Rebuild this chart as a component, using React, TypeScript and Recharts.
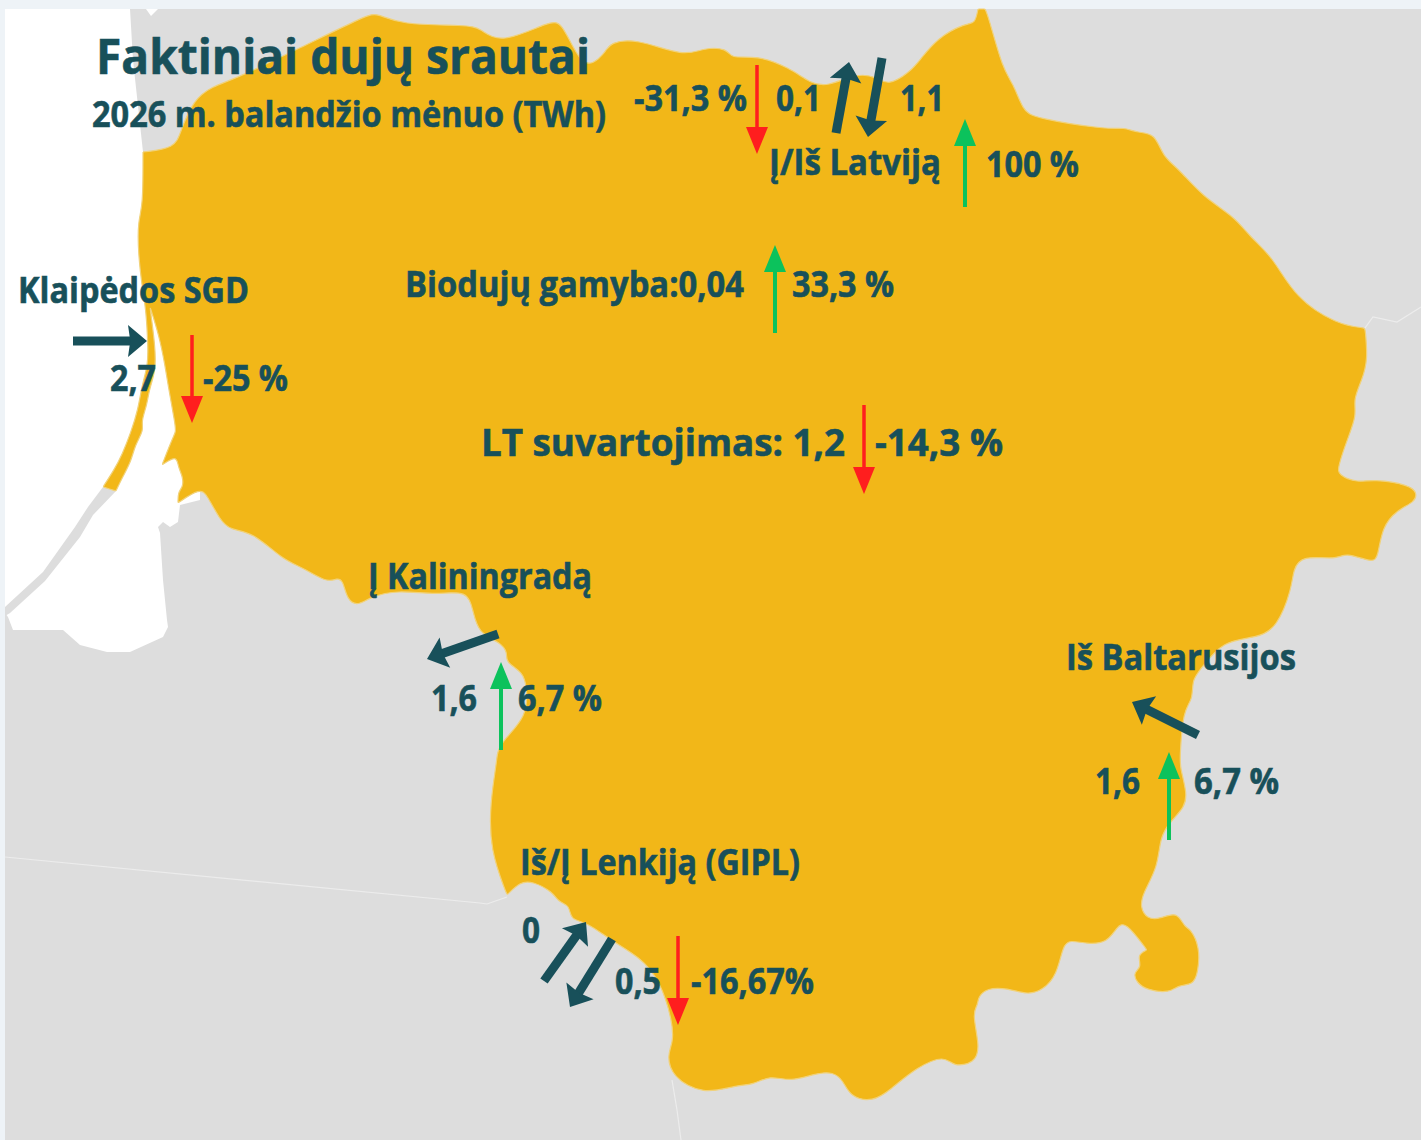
import { ScatterChart, Scatter, XAxis, YAxis } from "recharts"

const WIDTH = 1421
const HEIGHT = 1140
const PAGE = "#eef3f7"
const LAND = "#dddddd"
const GOLD = "#f2b718"
const INK = "#18505a"
const RED = "#ff1e1e"
const GREEN = "#0cc25c"

type Pt = [number, number]

const frame: Pt[] = [[5, 9], [1421, 9], [1421, 1140], [5, 1140]]

const sea: Pt[] = [
  [5, 9], [130, 9], [133, 60], [143, 152], [200, 152], [200, 500], [180, 505], [178, 522], [170, 527], [163, 522],
  [158, 527], [160, 533], [163, 580], [167, 620], [168, 627], [163, 637], [130, 652], [107, 652], [80, 645], [63, 630],
  [13, 630], [8, 617], [5, 613],
]

const seaNotch: Pt[] = [[146, 9], [158, 9], [151, 16]]

const grayCuronian: Pt[] = [
  [103, 487], [88, 507], [75, 527], [43, 572], [5, 607], [5, 616], [10, 613], [45, 581], [80, 537], [93, 515], [116, 491],
]

// repeated points keep the sharp corners when the outline is smoothed
const lithuania: Pt[] = [
  [143, 152], [143, 152], [143, 207], [138, 220], [138, 253], [143, 293], [146, 310], [148, 345], [148, 365], [142, 385], [138, 410],
  [131, 432], [122, 455], [114, 470], [103, 487], [103, 487], [116, 491], [116, 491], [122, 478], [131, 462], [135, 445], [144, 430], [141, 422],
  [147, 405], [149, 390], [156, 370], [155, 345], [150, 307], [150, 307], [159, 335], [165, 365], [168, 385], [175, 423], [176, 432],
  [173, 437], [162, 465], [162, 465], [177, 455], [178, 467], [183, 477], [183, 487], [178, 492], [178, 503], [178, 503], [200, 488], [207, 495],
  [220, 520], [230, 530], [253, 532], [283, 560], [302, 567], [327, 583], [337, 578], [343, 580], [347, 600], [358, 606],
  [370, 597], [397, 590], [437, 595], [467, 590], [473, 610], [478, 633], [500, 642], [508, 653], [505, 662], [523, 672],
  [527, 687], [527, 717], [503, 740], [497, 753], [497, 760], [490, 803], [490, 850], [507, 895], [507, 895], [520, 882], [532, 881],
  [553, 892], [558, 902], [570, 905], [570, 920], [587, 922], [610, 940], [640, 957], [660, 980], [673, 1023], [673, 1043],
  [667, 1055], [672, 1077], [703, 1095], [737, 1085], [753, 1085], [770, 1075], [790, 1082], [817, 1073], [833, 1072], [843, 1080],
  [850, 1097], [873, 1102], [890, 1090], [917, 1067], [945, 1055], [953, 1067], [975, 1063], [980, 1047], [972, 1013], [978, 1005],
  [978, 997], [987, 988], [1007, 988], [1028, 995], [1043, 990], [1057, 975], [1063, 945], [1070, 940], [1087, 944], [1107, 943],
  [1117, 927], [1125, 921], [1147, 950], [1147, 950], [1137, 955], [1142, 967], [1133, 973], [1137, 983], [1147, 990], [1170, 993], [1178, 985],
  [1193, 985], [1198, 973], [1200, 947], [1190, 928], [1185, 928], [1177, 911], [1160, 919], [1147, 919], [1140, 907], [1143, 893],
  [1158, 867], [1160, 837], [1170, 822], [1185, 807], [1187, 793], [1180, 767], [1180, 757], [1183, 710], [1193, 700], [1192, 680],
  [1200, 670], [1223, 640], [1257, 638], [1277, 628], [1292, 588], [1293, 570], [1302, 555], [1337, 560], [1345, 552], [1373, 563],
  [1378, 557], [1382, 527], [1397, 510], [1415, 502], [1417, 493], [1410, 485], [1373, 479], [1358, 483], [1338, 475], [1338, 467],
  [1347, 440], [1357, 415], [1353, 400], [1362, 380], [1368, 360], [1365, 328], [1365, 328], [1338, 325], [1295, 298], [1273, 257], [1250, 237],
  [1235, 217], [1203, 197], [1178, 168], [1163, 157], [1155, 133], [1138, 133], [1123, 127], [1110, 130], [1033, 118], [1023, 110],
  [1013, 83], [1003, 70], [988, 15], [985, 9], [985, 9], [978, 9], [978, 9], [975, 24], [966, 23], [937, 38], [920, 60], [910, 72],
  [888, 86], [877, 77], [857, 73], [827, 87], [810, 83], [790, 68], [757, 55], [730, 59], [728, 48], [702, 48],
  [685, 57], [635, 38], [610, 43], [607, 50], [593, 65], [580, 63], [562, 23], [552, 20], [500, 45], [480, 28],
  [467, 25], [400, 25], [377, 13], [367, 15], [300, 48], [233, 80], [213, 86], [193, 100], [180, 133], [175, 148], [143, 152], [143, 152],
]

const borderPoland: Pt[] = [[5, 857], [480, 903], [487, 904], [507, 897]]
const borderKaliningrad: Pt[] = [[672, 1080], [677, 1110], [681, 1140]]
const borderBelarus: Pt[] = [[1365, 328], [1373, 317], [1397, 322], [1421, 307]]

// flow arrows: tail, tip
const flowArrows: [Pt, Pt][] = [
  [[73, 341], [147, 341]],
  [[836, 133], [849, 62]],
  [[882, 58], [868, 137]],
  [[498, 634], [427, 659]],
  [[1198, 735], [1132, 702]],
  [[544, 981], [586, 922]],
  [[612, 939], [570, 1007]],
]
const redArrows: [Pt, Pt][] = [
  [[757, 65], [757, 154]],
  [[192, 335], [192, 423]],
  [[864, 405], [864, 494]],
  [[678, 936], [678, 1025]],
]
const greenArrows: [Pt, Pt][] = [
  [[965, 207], [965, 119]],
  [[775, 333], [775, 245]],
  [[501, 750], [501, 662]],
  [[1169, 840], [1169, 752]],
]

const labelTexts = [
  "Faktiniai dujų srautai", "2026 m. balandžio mėnuo (TWh)", "-31,3 %", "0,1", "1,1", "Į/Iš Latviją", "100 %",
  "Biodujų gamyba:0,04", "33,3 %", "Klaipėdos SGD", "2,7", "-25 %", "LT suvartojimas: 1,2", "-14,3 %",
  "Į Kaliningradą", "1,6", "6,7 %", "Iš Baltarusijos", "1,6", "6,7 %", "Iš/Į Lenkiją (GIPL)", "0", "0,5", "-16,67%",
]
const labelX = [96, 92, 634, 776, 900, 769, 986, 405, 792, 18, 110, 203, 481, 875, 368, 431, 518, 1066, 1095, 1194, 520, 522, 615, 691]
const labelY = [74, 127, 111, 111, 111, 175, 177, 297, 297, 303, 391, 391, 456, 456, 589, 711, 711, 670, 794, 794, 875, 943, 994, 994]
const labelWidths = [494, 514, 113, 45, 44, 172, 93, 339, 102, 231, 46, 85, 364, 128, 224, 46, 84, 230, 45, 85, 280, 18, 46, 123]
const labelSizes = [48, 35, 35, 35, 35, 35, 35, 35, 35, 35, 35, 35, 38, 38, 35, 35, 35, 35, 35, 35, 35, 35, 35, 35]

const toPoints = (pts: Pt[]) => pts.map(([x, y]) => ({ x, y }))
const labels = labelTexts.map((text, i) => ({ text, x: labelX[i], y: labelY[i], w: labelWidths[i], size: labelSizes[i] }))

const noDot = () => <g />

function Region({ pts, fill, stroke = "none", curve = "linear" }: { pts: Pt[]; fill: string; stroke?: string; curve?: string }) {
  return (
    <Scatter
      data={toPoints(pts)}
      line={{ fill, stroke, strokeWidth: stroke === "none" ? 0 : 1.2 }}
      lineJointType={curve as any}
      shape={noDot}
      isAnimationActive={false}
    />
  )
}

function arrowSeries(key: string, [tail, tip]: [Pt, Pt], color: string, shaft: number, headLen: number, headHalf: number, notch: number) {
  const dx = tip[0] - tail[0]
  const dy = tip[1] - tail[1]
  const len = Math.hypot(dx, dy)
  const angle = (Math.atan2(dy, dx) * 180) / Math.PI
  const head = (p: any) => {
    if (p.payload.x !== tip[0] || p.payload.y !== tip[1]) return <g />
    return (
      <polygon
        points={`0,0 ${-headLen},${-headHalf} ${-headLen * notch},0 ${-headLen},${headHalf}`}
        fill={color}
        transform={`translate(${p.cx},${p.cy}) rotate(${angle})`}
      />
    )
  }
  return (
    <Scatter
      key={key}
      data={toPoints([tail, tip])}
      line={{ stroke: color, strokeWidth: shaft, strokeDasharray: `${len - headLen * 0.7} 2000` }}
      shape={head}
      isAnimationActive={false}
    />
  )
}

const drawLabel = (p: any) => (
  <text
    x={p.cx}
    y={p.cy}
    fontFamily="'Open Sans', sans-serif"
    fontWeight={700}
    fontSize={p.payload.size}
    fill={INK}
    stroke={INK}
    strokeWidth={0.6}
    textLength={p.payload.w}
    lengthAdjust="spacingAndGlyphs"
  >
    {p.payload.text}
  </text>
)

export default function App() {
  return (
    <div style={{ position: "absolute", left: 0, top: 0, width: WIDTH, height: HEIGHT, background: PAGE }}>
      <ScatterChart width={WIDTH} height={HEIGHT} margin={{ top: 0, right: 0, bottom: 0, left: 0 }}>
        <XAxis type="number" dataKey="x" domain={[0, WIDTH]} hide />
        <YAxis type="number" dataKey="y" domain={[0, HEIGHT]} reversed hide />
        {Region({ pts: frame, fill: LAND })}
        {Region({ pts: sea, fill: "#ffffff" })}
        {Region({ pts: seaNotch, fill: "#ffffff" })}
        {Region({ pts: grayCuronian, fill: LAND })}
        {Region({ pts: borderPoland, fill: "none", stroke: "#ececec" })}
        {Region({ pts: borderKaliningrad, fill: "none", stroke: "#ececec" })}
        {Region({ pts: borderBelarus, fill: "none", stroke: "#ececec" })}
        {Region({ pts: lithuania, fill: GOLD, stroke: "#f1d27a", curve: "basis" })}
        {flowArrows.map((a, i) => arrowSeries(`flow-${i}`, a, INK, 9, 19, 16, 0.88))}
        {redArrows.map((a, i) => arrowSeries(`red-${i}`, a, RED, 3.5, 27, 11, 1))}
        {greenArrows.map((a, i) => arrowSeries(`green-${i}`, a, GREEN, 4, 27, 11, 1))}
        <Scatter data={labels} shape={drawLabel} isAnimationActive={false} />
      </ScatterChart>
    </div>
  )
}
